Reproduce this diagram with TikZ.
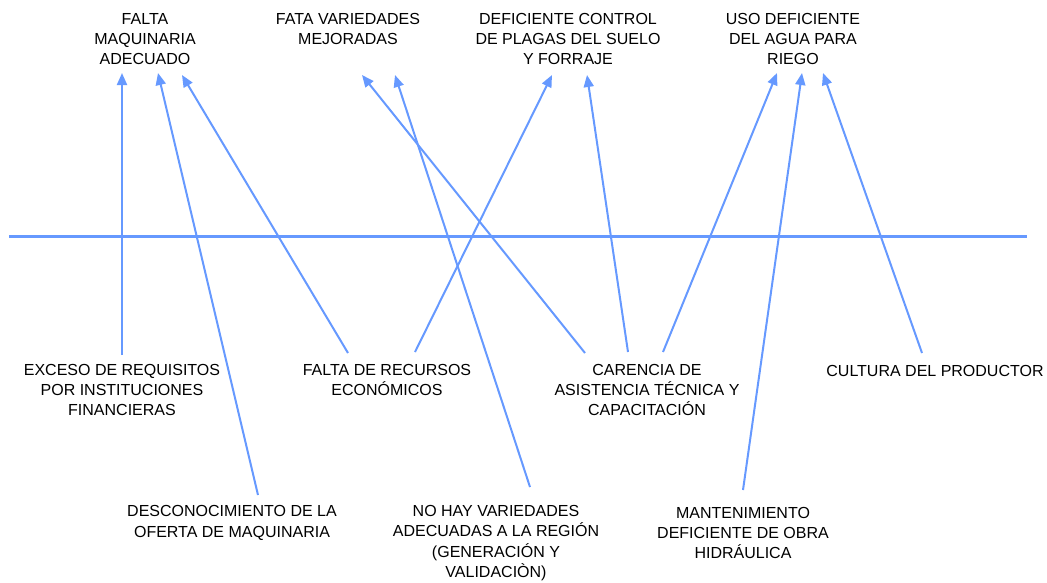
\documentclass[tikz,border=0pt]{standalone}
\usepackage{fontspec}
\setmainfont{Liberation Sans}
\usetikzlibrary{arrows.meta}
\definecolor{fishblue}{RGB}{102,153,255}
\begin{document}
\begin{tikzpicture}[x=1pt, y=-1pt,
    effect/.style={align=center, inner sep=0pt, font=\fontsize{16}{20.3}\selectfont, text=black},
    cause/.style={align=center, inner sep=0pt, font=\fontsize{16}{20.3}\selectfont, text=black},
    spine/.style={draw=fishblue, line width=3pt},
    bone/.style={draw=fishblue, line width=2pt, -{Triangle[length=12pt,width=10pt]}}]

\useasboundingbox (0,0) rectangle (1047,582);

\node (maquinaria) [effect] at (145,39) {FALTA\\MAQUINARIA\\ADECUADO};
\node (variedades) [effect] at (348,29) {FATA VARIEDADES\\MEJORADAS};
\node (plagas) [effect] at (568,39) {DEFICIENTE CONTROL\\DE PLAGAS DEL SUELO\\Y FORRAJE};
\node (agua) [effect] at (793,39) {USO DEFICIENTE\\DEL AGUA PARA\\RIEGO};

\node (exceso) [cause] at (122,390) {EXCESO DE REQUISITOS\\POR INSTITUCIONES\\FINANCIERAS};
\node (oferta) [cause] at (232,523) {DESCONOCIMIENTO DE LA\\OFERTA DE MAQUINARIA};
\node (recursos) [cause] at (387,380) {FALTA DE RECURSOS\\ECONÓMICOS};
\node (region) [cause] at (496,543) {NO HAY VARIEDADES\\ADECUADAS A LA REGIÓN\\(GENERACIÓN Y\\VALIDACIÒN)};
\node (asistencia) [cause] at (647,390) {CARENCIA DE\\ASISTENCIA TÉCNICA Y\\CAPACITACIÓN};
\node (obra) [cause] at (743,533) {MANTENIMIENTO\\DEFICIENTE DE OBRA\\HIDRÁULICA};
\node (productor) [cause] at (935,371) {CULTURA DEL PRODUCTOR};

\coordinate (spineL) at (9,236);
\coordinate (spineR) at (1027,236);
\draw [spine] (spineL) -- (spineR);

\coordinate (exceso0) at (122,355);   \coordinate (maq1) at (122,73);
\coordinate (oferta0) at (258,495);   \coordinate (maq2) at (158,73);
\coordinate (recursos0) at (348,353); \coordinate (maq3) at (182,75);
\coordinate (asist0) at (585,353);    \coordinate (var1) at (362,75);
\coordinate (region0) at (530,487);   \coordinate (var2) at (395,75);
\coordinate (recursos1) at (415,352); \coordinate (plag1) at (552,75);
\coordinate (asist1) at (628,352);    \coordinate (plag2) at (587,75);
\coordinate (asist2) at (663,352);    \coordinate (agua1) at (777,73);
\coordinate (obra0) at (743,490);     \coordinate (agua2) at (802,73);
\coordinate (prod0) at (922,353);     \coordinate (agua3) at (823,73);

\draw [bone] (exceso0) -- (maq1);
\draw [bone] (oferta0) -- (maq2);
\draw [bone] (recursos0) -- (maq3);
\draw [bone] (asist0) -- (var1);
\draw [bone] (region0) -- (var2);
\draw [bone] (recursos1) -- (plag1);
\draw [bone] (asist1) -- (plag2);
\draw [bone] (asist2) -- (agua1);
\draw [bone] (obra0) -- (agua2);
\draw [bone] (prod0) -- (agua3);

\end{tikzpicture}
\end{document}
